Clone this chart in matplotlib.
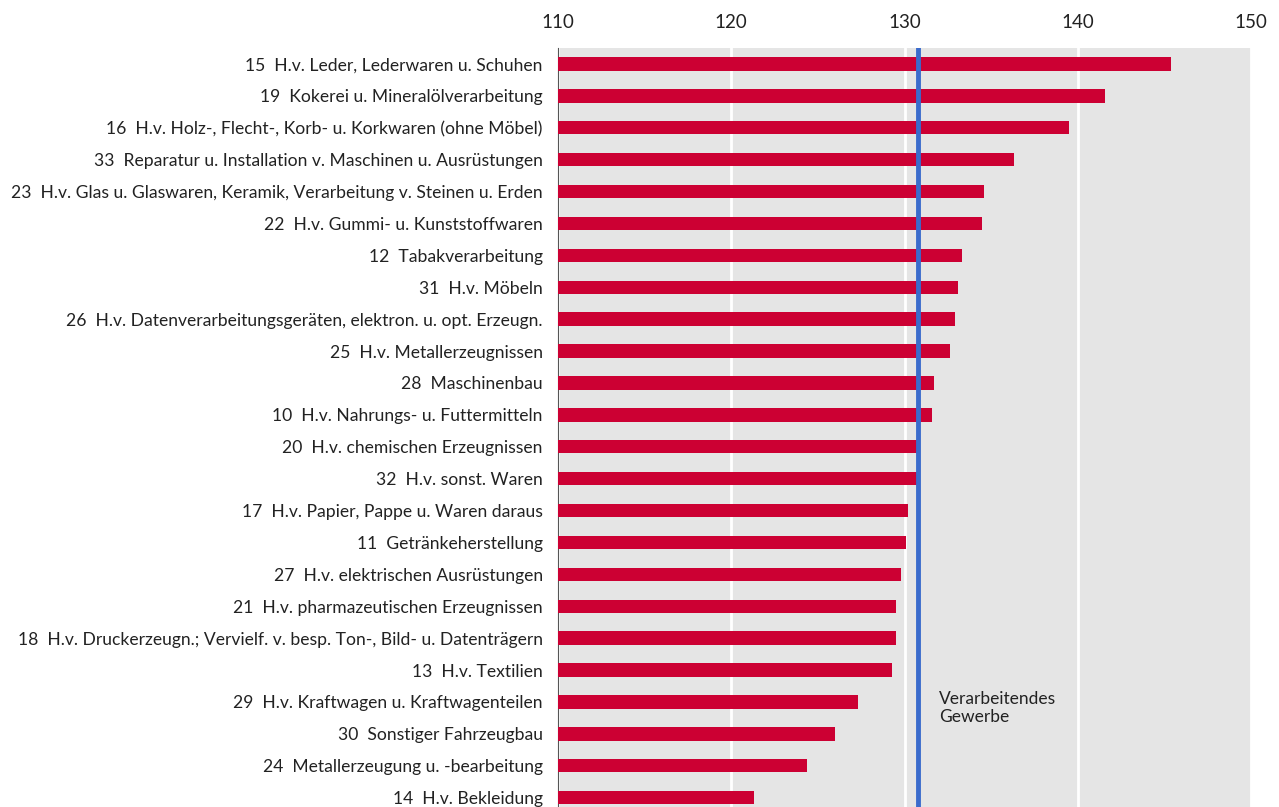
import matplotlib.pyplot as plt
import numpy as np

plt.rcParams['font.family'] = ['Lato', 'DejaVu Sans']

labels = [
    '15  H.v. Leder, Lederwaren u. Schuhen',
    '19  Kokerei u. Mineralölverarbeitung',
    '16  H.v. Holz-, Flecht-, Korb- u. Korkwaren (ohne Möbel)',
    '33  Reparatur u. Installation v. Maschinen u. Ausrüstungen',
    '23  H.v. Glas u. Glaswaren, Keramik, Verarbeitung v. Steinen u. Erden',
    '22  H.v. Gummi- u. Kunststoffwaren',
    '12  Tabakverarbeitung',
    '31  H.v. Möbeln',
    '26  H.v. Datenverarbeitungsgeräten, elektron. u. opt. Erzeugn.',
    '25  H.v. Metallerzeugnissen',
    '28  Maschinenbau',
    '10  H.v. Nahrungs- u. Futtermitteln',
    '20  H.v. chemischen Erzeugnissen',
    '32  H.v. sonst. Waren',
    '17  H.v. Papier, Pappe u. Waren daraus',
    '11  Getränkeherstellung',
    '27  H.v. elektrischen Ausrüstungen',
    '21  H.v. pharmazeutischen Erzeugnissen',
    '18  H.v. Druckerzeugn.; Vervielf. v. besp. Ton-, Bild- u. Datenträgern',
    '13  H.v. Textilien',
    '29  H.v. Kraftwagen u. Kraftwagenteilen',
    '30  Sonstiger Fahrzeugbau',
    '24  Metallerzeugung u. -bearbeitung',
    '14  H.v. Bekleidung',
]
values = [145.4, 141.6, 139.5, 136.3, 134.6, 134.5, 133.3, 133.1, 132.9, 132.6,
          131.7, 131.6, 130.8, 130.8, 130.2, 130.1, 129.8, 129.5, 129.5, 129.3,
          127.3, 126.0, 124.4, 121.3]
gesamt = 130.8
ticks = [110, 120, 130, 140, 150]

fig = plt.figure(figsize=(12.79, 8.07), dpi=100)
ax = fig.add_axes([558 / 1279, -13 / 807, 693 / 1279, 772 / 807])
ax.set_facecolor('#e5e5e5')

y = np.arange(len(labels))
ax.barh(y, np.array(values) - 110, left=110, height=0.42, color='#cc0033', zorder=3)
ax.axvline(gesamt, color='#3a6bcc', lw=3.5, zorder=4)
ax.text(gesamt + 1.2, 19.65, 'Verarbeitendes\nGewerbe', fontsize=12.5,
        color='#222222', va='top', ha='left', linespacing=1.2, zorder=5)

ax.set_xlim(110, 150)
ax.set_ylim(len(labels) - 0.5 + 0.2, -0.5)
ax.set_xticks(ticks)
ax.xaxis.tick_top()
ax.tick_params(axis='x', length=0, labelsize=13.5, pad=12, colors='#222222')
ax.set_yticks(y)
ax.set_yticklabels(labels)
ax.tick_params(axis='y', length=0, labelsize=12.6, pad=11, colors='#222222')
ax.grid(axis='x', color='white', lw=2, zorder=1)
for s in ['top', 'right', 'bottom']:
    ax.spines[s].set_visible(False)
ax.spines['left'].set_color('#555555')
ax.spines['left'].set_linewidth(0.8)

fig.savefig('out.png', dpi=100)
